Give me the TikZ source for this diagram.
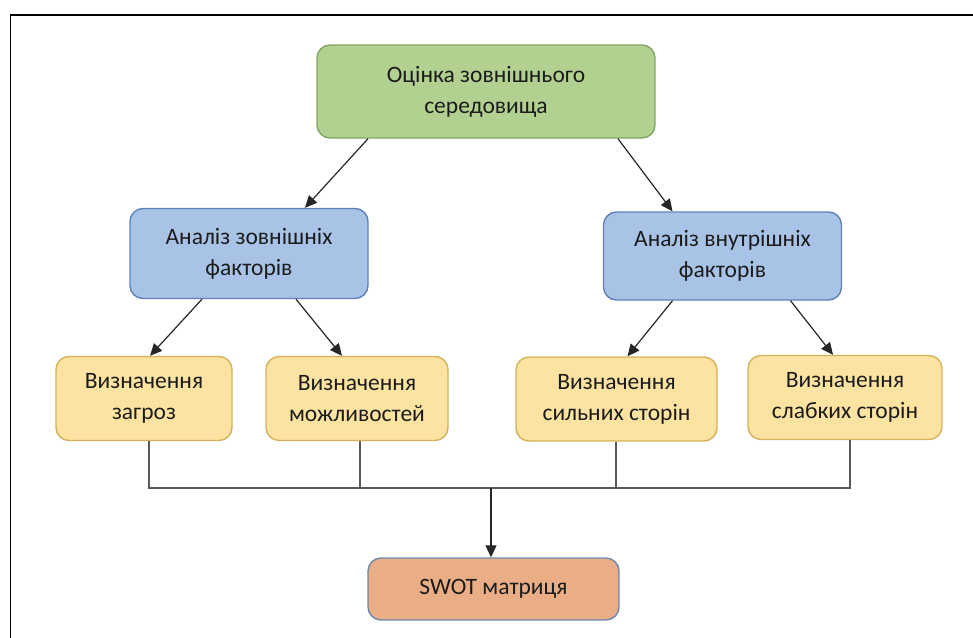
\documentclass[tikz,border=0pt]{standalone}
\usepackage{fontspec}
\setmainfont{Carlito}
\usetikzlibrary{arrows.meta,positioning,calc}

\definecolor{envfill}{HTML}{B2D191}
\definecolor{envline}{HTML}{82A663}
\definecolor{facfill}{HTML}{A8C3E6}
\definecolor{facline}{HTML}{5E82B8}
\definecolor{stepfill}{HTML}{FCE3A2}
\definecolor{stepline}{HTML}{D4B25A}
\definecolor{swotfill}{HTML}{E9AE85}
\definecolor{swotline}{HTML}{6F89AE}
\definecolor{ink}{HTML}{1C1C1C}

\begin{document}
\begin{tikzpicture}[
    x=1pt, y=-1pt,
    box/.style={rectangle, rounded corners=13pt, draw, line width=1.4pt, align=center, inner sep=0pt,
        text=ink, font=\fontsize{23.5}{31}\selectfont},
    envbox/.style={box, fill=envfill, draw=envline, minimum width=338pt, minimum height=93pt},
    facbox/.style={box, fill=facfill, draw=facline, minimum width=238pt, minimum height=90pt},
    stepbox/.style={box, fill=stepfill, draw=stepline, minimum height=84pt},
    swotbox/.style={box, fill=swotfill, draw=swotline, minimum width=251pt, minimum height=62pt},
    arrow/.style={-{Triangle[length=12pt,width=11pt]}, line width=1.2pt, draw=black!85},
    bus/.style={line width=1.3pt, draw=black!65}
]
    \useasboundingbox (0,0) rectangle (973,637);

    % Frame
    \draw[line width=1.6pt] (10.5,640) -- (10.5,15) -- (976,15);

    % Top level
    \node[envbox] (env) at (486,91.5) {Оцінка зовнішнього\\середовища};

    % Factor analysis
    \node[facbox] (extfac) at (249,253.5) {Аналіз зовнішніх\\факторів};
    \node[facbox, minimum height=88pt] (intfac) at (722.5,256) {Аналіз внутрішніх\\факторів};

    % Steps
    \node[stepbox, minimum width=176pt] (threats) at (144,398.5) {Визначення\\загроз};
    \node[stepbox, minimum width=182pt] (opps) at (357,398.5) {Визначення\\можливостей};
    \node[stepbox, minimum width=201pt] (strengths) at (616.5,399) {Визначення\\сильних сторін};
    \node[stepbox, minimum width=194pt] (weaknesses) at (845,397.5) {Визначення\\слабких сторін};

    % Result
    \node[swotbox] (swot) at (493.5,589) {SWOT матриця};

    % Arrows
    \draw[arrow] ([xshift=-118pt]env.south) -- ([xshift=56pt]extfac.north);
    \draw[arrow] ([xshift=132pt]env.south) -- ([xshift=-50pt]intfac.north);
    \draw[arrow] ([xshift=-47pt]extfac.south) -- ([xshift=6pt]threats.north);
    \draw[arrow] ([xshift=47pt]extfac.south) -- ([xshift=-15pt]opps.north);
    \draw[arrow] ([xshift=-50pt]intfac.south) -- ([xshift=11pt]strengths.north);
    \draw[arrow] ([xshift=68pt]intfac.south) -- ([xshift=-12pt]weaknesses.north);

    % Collecting line
    \coordinate (join) at (491,488);
    \draw[bus] ([xshift=5pt]threats.south) |- (join) -| ([xshift=5pt]weaknesses.south);
    \draw[bus] ([xshift=3pt]opps.south) -- ([xshift=3pt]opps.south |- join);
    \draw[bus] ([xshift=-0.5pt]strengths.south) -- ([xshift=-0.5pt]strengths.south |- join);
    \draw[arrow] (join) -- ([xshift=-2.5pt]swot.north);

\end{tikzpicture}
\end{document}
